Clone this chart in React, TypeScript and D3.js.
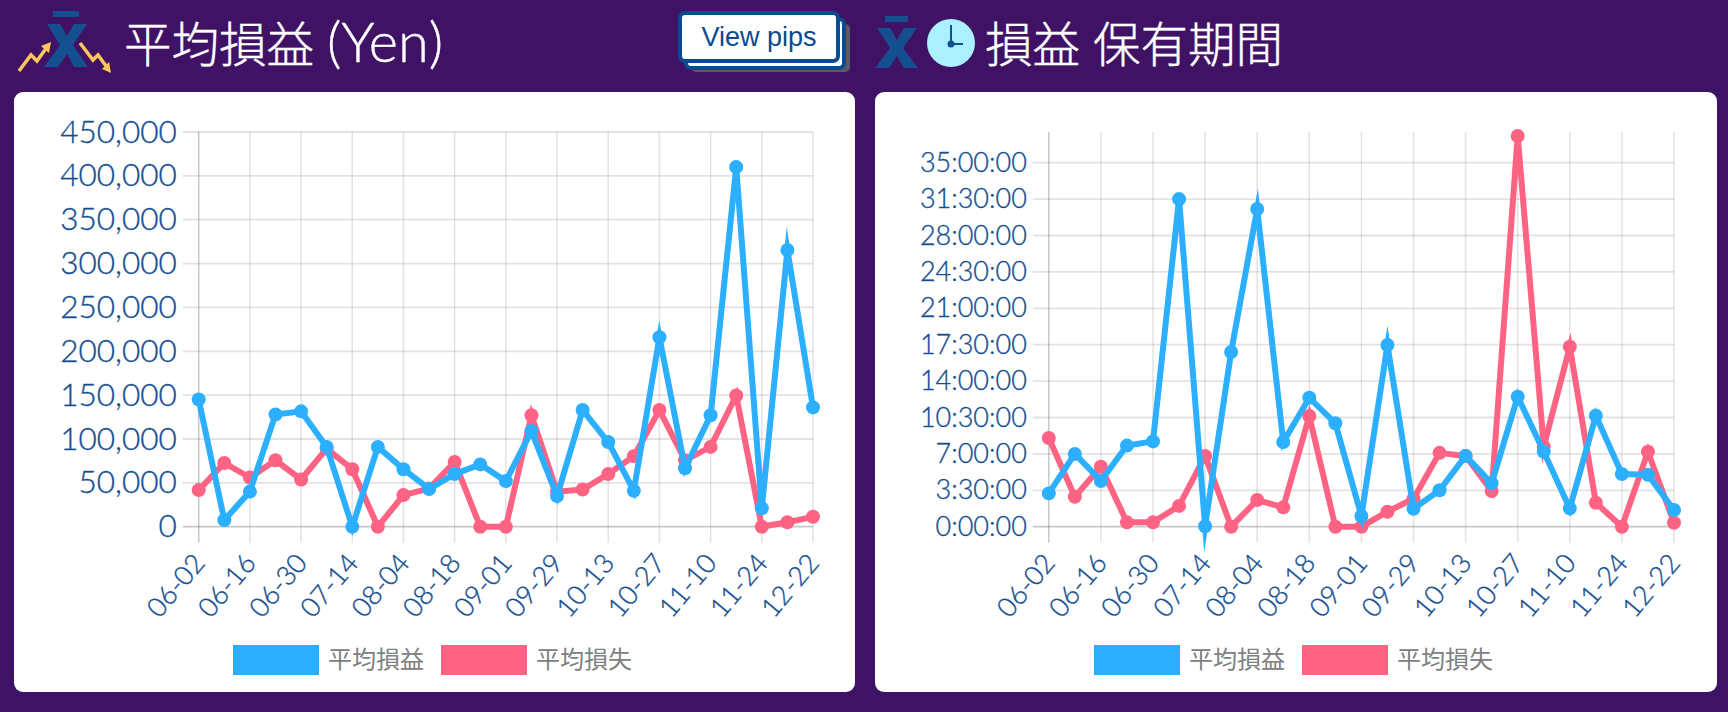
import { useEffect, useRef } from 'react';

import * as d3 from 'd3';

const WIDTH = 1728;
const HEIGHT = 712;

const NAVY = '#164f91';
const BLUE = '#2cafff';
const PINK = '#ff6384';
const FONT = "Lato, 'Noto Sans CJK JP', sans-serif";

const weeks = [
  '06-02', '06-09', '06-16', '06-23', '06-30', '07-07', '07-14', '07-28', '08-04',
  '08-11', '08-18', '08-25', '09-01', '09-08', '09-29', '10-06', '10-13', '10-20',
  '10-27', '11-03', '11-10', '11-17', '11-24', '12-08', '12-22',
];

const seriesNames = ['平均損益', '平均損失'];

// yen per week
const avgProfitYen = [
  145000, 7500, 40000, 128000, 131500, 91000, 0, 91000, 65500, 43000, 60000, 71000, 52000,
  109000, 35000, 133000, 96500, 41000, 216000, 66700, 127000, 410000, 21000, 315500, 136000,
];
const avgLossYen = [
  41700, 72700, 56000, 75700, 53800, 89000, 65500, 0, 36000, 43500, 73800, 0, 0,
  127000, 40000, 42400, 60000, 80300, 133000, 75700, 91000, 149600, 0, 5000, 11400,
];
const yenTicks = [0, 50000, 100000, 150000, 200000, 250000, 300000, 350000, 400000, 450000];

// hours held
const profitHours = [
  3.2, 7.0, 4.4, 7.8, 8.2, 31.5, 0.05, 16.8, 30.55, 8.14, 12.4, 9.94, 1.03,
  17.47, 1.73, 3.5, 6.8, 4.17, 12.5, 7.2, 1.76, 10.67, 5.06, 5.0, 1.6,
];
const lossHours = [
  8.53, 2.88, 5.77, 0.42, 0.42, 2.0, 6.8, 0, 2.56, 1.86, 10.64, 0, 0,
  1.44, 2.7, 7.1, 6.8, 3.43, 37.56, 7.7, 17.3, 2.3, 0, 7.2, 0.38,
];
const hourTicks = [0, 3.5, 7, 10.5, 14, 17.5, 21, 24.5, 28, 31.5, 35];

const formatHours = (h: number) => `${Math.floor(h)}:${h % 1 ? '30' : '00'}:00`;

function drawChart(svgNode: SVGSVGElement, opt: any) {
  const svg = d3.select(svgNode).append('g').attr('class', 'chart');

  const x = d3.scalePoint<string>()
    .domain(weeks)
    .range([opt.left, opt.right]);

  const y = d3.scaleLinear()
    .domain([0, opt.yMax])
    .range([opt.bottom, opt.top]);

  // card
  svg.append('rect')
    .attr('x', opt.cardX)
    .attr('y', 92)
    .attr('width', opt.cardW)
    .attr('height', 600)
    .attr('rx', 9)
    .attr('fill', '#fff');

  const tickWeeks = weeks.filter((_, i) => i % 2 === 0);

  // grid
  svg.append('g')
    .selectAll('line')
    .data(tickWeeks)
    .join('line')
    .attr('x1', (d) => x(d) || 0)
    .attr('x2', (d) => x(d) || 0)
    .attr('y1', opt.top)
    .attr('y2', opt.bottom + 16)
    .attr('stroke', (d, i) => (i === 0 ? 'rgba(0,0,0,0.22)' : 'rgba(0,0,0,0.11)'))
    .attr('stroke-width', 1.5);

  svg.append('g')
    .selectAll('line')
    .data(opt.ticks as number[])
    .join('line')
    .attr('x1', opt.left - 16)
    .attr('x2', opt.right)
    .attr('y1', (d) => y(d))
    .attr('y2', (d) => y(d))
    .attr('stroke', (d) => (d === 0 ? 'rgba(0,0,0,0.22)' : 'rgba(0,0,0,0.11)'))
    .attr('stroke-width', 1.8);

  // axes
  const yAxis = d3.axisLeft(y)
    .tickValues(opt.ticks)
    .tickSize(0)
    .tickPadding(22)
    .tickFormat(opt.format);

  svg.append('g')
    .attr('transform', `translate(${opt.left},0)`)
    .call(yAxis)
    .call((g) => g.select('.domain').remove())
    .call((g) => g.selectAll('text')
      .attr('fill', NAVY)
      .attr('stroke', NAVY)
      .attr('stroke-width', 0.35)
      .attr('font-family', FONT)
      .attr('font-weight', 300)
      .attr('font-size', opt.yFont));

  const xAxis = d3.axisBottom(x)
    .tickValues(tickWeeks)
    .tickSize(0);

  svg.append('g')
    .attr('transform', `translate(0,${opt.bottom})`)
    .call(xAxis)
    .call((g) => g.select('.domain').remove())
    .call((g) => g.selectAll('text')
      .attr('fill', NAVY)
      .attr('stroke', NAVY)
      .attr('stroke-width', 0.35)
      .attr('font-family', FONT)
      .attr('font-weight', 300)
      .attr('font-size', opt.xFont)
      .attr('dy', 0)
      .attr('y', 0)
      .attr('text-anchor', 'end')
      .attr('transform', 'translate(7,37) rotate(-50)'));

  // lines, pink first so the blue stays on top
  const line = d3.line<number>()
    .x((_, i) => x(weeks[i]) || 0)
    .y((d) => y(d));

  const series = [
    { values: opt.loss, color: PINK },
    { values: opt.profit, color: BLUE },
  ];

  series.forEach((s) => {
    svg.append('path')
      .datum(s.values as number[])
      .attr('d', line)
      .attr('fill', 'none')
      .attr('stroke', s.color)
      .attr('stroke-width', 6)
      .attr('stroke-linejoin', 'miter')
      .attr('stroke-miterlimit', 9);

    svg.append('g')
      .selectAll('circle')
      .data(s.values as number[])
      .join('circle')
      .attr('cx', (_, i) => x(weeks[i]) || 0)
      .attr('cy', (d) => y(d))
      .attr('r', 7)
      .attr('fill', s.color);
  });

  // legend
  const legend = svg.append('g');
  [BLUE, PINK].forEach((color, i) => {
    legend.append('rect')
      .attr('x', opt.legendX[i])
      .attr('y', 645)
      .attr('width', 86)
      .attr('height', 30)
      .attr('fill', color);
    legend.append('text')
      .attr('x', opt.legendX[i] + 95)
      .attr('y', 668)
      .attr('font-family', FONT)
      .attr('font-size', 24)
      .attr('font-weight', 400)
      .attr('fill', '#808080')
      .text(seriesNames[i]);
  });
}

function App() {
  const svgRef = useRef<SVGSVGElement>(null);

  useEffect(() => {
    const node = svgRef.current;
    if (!node) return;
    d3.select(node).selectAll('g.chart').remove();
    drawChart(node, {
      cardX: 14,
      cardW: 841,
      left: 198.7,
      right: 813,
      top: 132,
      bottom: 526.7,
      yMax: 450000,
      ticks: yenTicks,
      format: d3.format(','),
      profit: avgProfitYen,
      loss: avgLossYen,
      yFont: 31.5,
      xFont: 27,
      legendX: [233, 441],
    });
    drawChart(node, {
      cardX: 875,
      cardW: 842,
      left: 1048.8,
      right: 1674,
      top: 132,
      bottom: 526.7,
      yMax: 37.95,
      ticks: hourTicks,
      format: formatHours,
      profit: profitHours,
      loss: lossHours,
      yFont: 27,
      xFont: 27,
      legendX: [1094, 1302],
    });
  }, []);

  return (
    <svg
      ref={svgRef}
      width={WIDTH}
      height={HEIGHT}
      viewBox={`0 0 ${WIDTH} ${HEIGHT}`}
      style={{ position: 'absolute', left: 0, top: 0, display: 'block' }}
    >
      <rect width={WIDTH} height={HEIGHT} fill="#401266" />

      {/* left icon */}
      <rect x={53} y={11} width={26} height={6} fill="#164f8f" />
      <polygon points="47,24 60,24 67,36 74,24 87,24 73,45 88,67 74,67 67,54 58,67 44,67 60,45" fill="#164f8f" />
      <polyline points="19,71 31,55 37,61 47,47" fill="none" stroke="#ffc65c" strokeWidth={3.5} />
      <polygon points="51,42 41,46 49,53" fill="#ffc65c" />
      <polyline points="80,43 93,60 98,55 106,66" fill="none" stroke="#ffc65c" strokeWidth={3.5} />
      <polygon points="111,73 102,69 109,62" fill="#ffc65c" />
      <text x={124} y={62} fontFamily={FONT} fontSize={47.5} fontWeight={300} fill="#fff" stroke="#fff" strokeWidth={0.4}>
        平均損益 <tspan fontSize={56} fontWeight={300}>(Yen)</tspan>
      </text>

      {/* button */}
      <rect x={691} y={24} width={159} height={48} rx={5} fill="#5c5a66" />
      <rect x={686} y={19} width={158} height={49} rx={5} fill="#fff" stroke="#0a4a8f" strokeWidth={4} />
      <rect x={680} y={13} width={158} height={48} rx={5} fill="#fff" stroke="#0a4a8f" strokeWidth={4} />
      <text x={759} y={46} textAnchor="middle" fontFamily="'Liberation Sans'" fontSize={27} fill="#0a4a8f">View pips</text>

      {/* right icon */}
      <rect x={885} y={16} width={23} height={6} fill="#164f8f" />
      <polygon points="877,28 890,28 897,40 904,28 917,28 903,48 918,68 904,68 897,56 889,68 875,68 890,48" fill="#164f8f" />
      <circle cx={951} cy={43} r={24} fill="#aaf0ff" />
      <polyline points="951,25 951,44 963,44" fill="none" stroke="#164f8f" strokeWidth={2} />
      <circle cx={951} cy={44} r={3.5} fill="#164f8f" />
      <text x={985} y={62} fontFamily={FONT} fontSize={47.5} fontWeight={300} fill="#fff" stroke="#fff" strokeWidth={0.4}>損益 保有期間</text>
    </svg>
  );
}

export default App;
